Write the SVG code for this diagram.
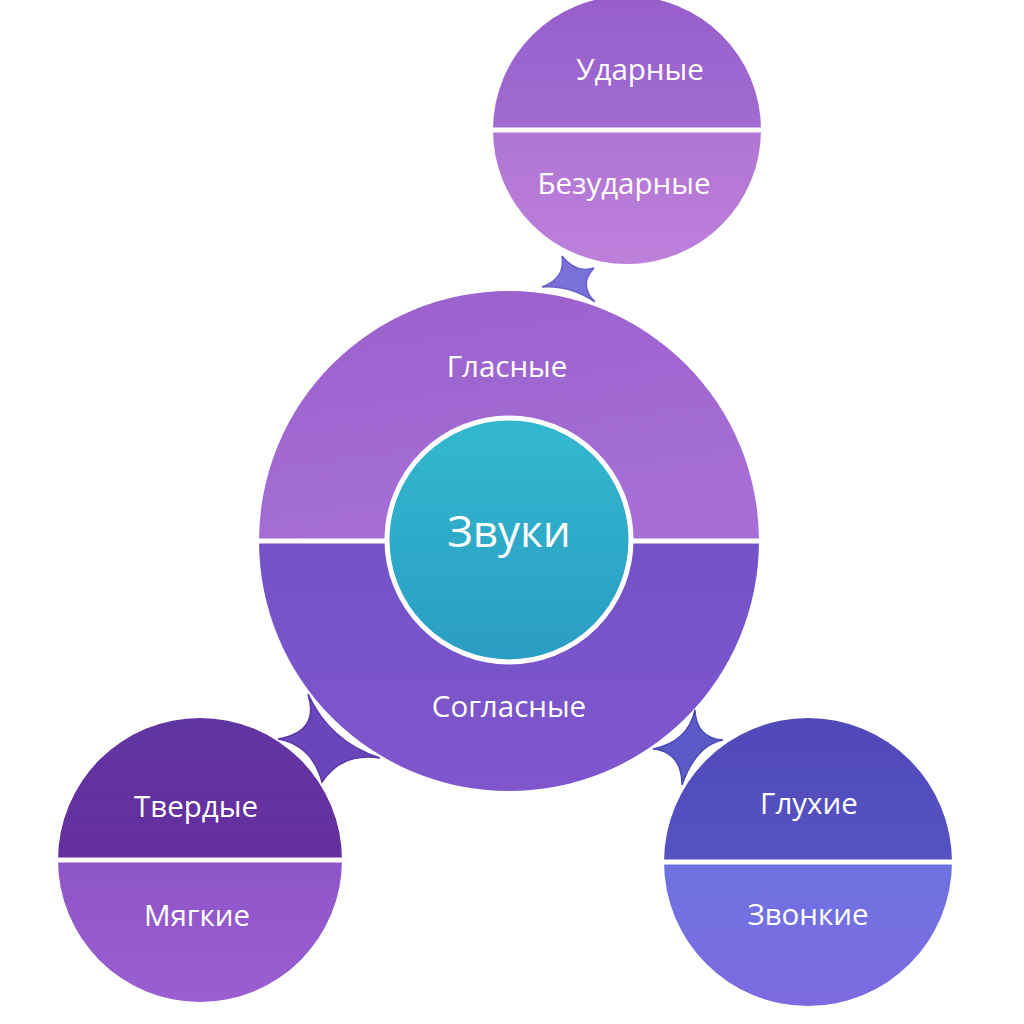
<svg xmlns="http://www.w3.org/2000/svg" width="1024" height="1024" viewBox="0 0 1024 1024">
<defs>
<style>
text{font-family:"Open Sans","Noto Sans","DejaVu Sans",sans-serif;fill:#ffffff;text-anchor:middle}
.lbl{font-size:29.5px}
.sm{font-size:29.5px}
.div{stroke:#ffffff;stroke-width:5}
.conn{stroke-width:1.5}
</style>
<linearGradient id="gTop" x1="0" y1="0" x2="0.3" y2="1"><stop offset="0" stop-color="#9a60cd"/><stop offset="1" stop-color="#a66ed6"/></linearGradient>
<linearGradient id="gBot" x1="0" y1="0" x2="0" y2="1"><stop offset="0" stop-color="#7452c7"/><stop offset="1" stop-color="#8056cd"/></linearGradient>
<linearGradient id="gCore" x1="0" y1="0" x2="0" y2="1"><stop offset="0" stop-color="#33b8cf"/><stop offset="1" stop-color="#2a9dc3"/></linearGradient>
<linearGradient id="gT1" x1="0" y1="0" x2="0" y2="1"><stop offset="0" stop-color="#975ecb"/><stop offset="1" stop-color="#a26bd2"/></linearGradient>
<linearGradient id="gT2" x1="0" y1="0" x2="0" y2="1"><stop offset="0" stop-color="#b074d3"/><stop offset="1" stop-color="#bd80db"/></linearGradient>
<linearGradient id="gL1" x1="0" y1="0" x2="0" y2="1"><stop offset="0" stop-color="#5f35a2"/><stop offset="1" stop-color="#672f9e"/></linearGradient>
<linearGradient id="gL2" x1="0" y1="0" x2="0" y2="1"><stop offset="0" stop-color="#8e55c9"/><stop offset="1" stop-color="#9a5ed0"/></linearGradient>
<linearGradient id="gR1" x1="0" y1="0" x2="0" y2="1"><stop offset="0" stop-color="#5049b8"/><stop offset="1" stop-color="#5553c2"/></linearGradient>
<linearGradient id="gR2" x1="0" y1="0" x2="0" y2="1"><stop offset="0" stop-color="#6e73e2"/><stop offset="1" stop-color="#7d6ae0"/></linearGradient>
</defs>
<rect width="1024" height="1024" fill="#ffffff"/>
<g id="connectors">
<path class="conn" d="M562 256 Q576 274 594 268 Q578 285 595 302 Q570 285 542 287 Q566 278 562 256 Z" fill="#7a72d8" stroke="#6a5fc8"/>
<path class="conn" d="M308 694 Q320 732 278 739 Q312 745 322 782 Q342 752 380 758 Q330 742 308 694 Z" fill="#6b46bb" stroke="#5a38a8"/>
<path class="conn" d="M695 710 Q688 742 653 749 Q682 752 682 785 Q696 745 723 740 Q696 738 695 710 Z" fill="#5b5bc8" stroke="#4b4bb5"/>
</g>
<g id="node-main">
<path d="M259 541 A250 250 0 0 1 759 541 Z" fill="url(#gTop)"/>
<path d="M259 541 A250 250 0 0 0 759 541 Z" fill="url(#gBot)"/>
<line class="div" x1="259" y1="541" x2="759" y2="541"/>
<text class="lbl" x="507" y="377">Гласные</text>
<text class="lbl" x="509" y="717">Согласные</text>
</g>
<g id="node-core">
<circle cx="509" cy="540" r="122" fill="url(#gCore)" stroke="#ffffff" stroke-width="5"/>
<text x="509" y="547" font-size="44">Звуки</text>
</g>
<g id="node-vowels">
<path d="M493 130 A134 134 0 0 1 761 130 Z" fill="url(#gT1)"/>
<path d="M493 130 A134 134 0 0 0 761 130 Z" fill="url(#gT2)"/>
<line class="div" x1="493" y1="130" x2="761" y2="130"/>
<text class="sm" x="640" y="80">Ударные</text>
<text class="sm" x="624" y="194">Безударные</text>
</g>
<g id="node-hard">
<path d="M58 860 A142 142 0 0 1 342 860 Z" fill="url(#gL1)"/>
<path d="M58 860 A142 142 0 0 0 342 860 Z" fill="url(#gL2)"/>
<line class="div" x1="58" y1="860" x2="342" y2="860"/>
<text class="sm" x="196" y="817">Твердые</text>
<text class="sm" x="197" y="926">Мягкие</text>
</g>
<g id="node-voice">
<path d="M664 862 A144 144 0 0 1 952 862 Z" fill="url(#gR1)"/>
<path d="M664 862 A144 144 0 0 0 952 862 Z" fill="url(#gR2)"/>
<line class="div" x1="664" y1="862" x2="952" y2="862"/>
<text class="sm" x="809" y="814">Глухие</text>
<text class="sm" x="808" y="925">Звонкие</text>
</g>
</svg>
